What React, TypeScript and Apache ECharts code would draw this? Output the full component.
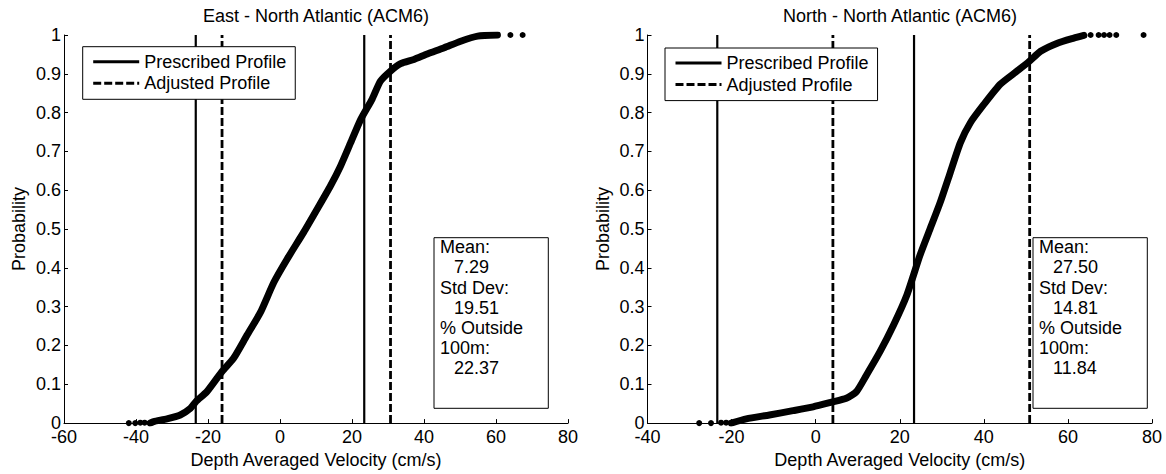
import React, { useEffect, useRef } from "react";
import * as echarts from "echarts";

// ---------- data ----------
const eastVel = [-36.1, -35.1, -31.4, -27.7, -24.9, -23.3, -20.3, -16.1, -12.9, -9.2, -5.4, -1.7, 2.0, 6.6, 10.3, 14.0, 16.8, 19.6, 22.4, 25.6, 27.9, 30.7, 33.5, 37.2, 40.9, 45.6, 50.2, 54.9, 60.4];
const eastProb = [0.0, 0.004, 0.011, 0.021, 0.038, 0.056, 0.081, 0.133, 0.167, 0.226, 0.286, 0.363, 0.423, 0.492, 0.551, 0.611, 0.662, 0.722, 0.782, 0.835, 0.881, 0.907, 0.926, 0.937, 0.951, 0.967, 0.984, 0.997, 1.0];
const eastTailVel = [-42.0, -40.2, -38.8, -37.6, 64.0, 67.4];
const eastTailProb = [0.0, 0.0, 0.001, 0.001, 1.0, 1.0];

const northVel = [-20.1, -16.5, -11.0, -5.4, -0.6, 3.8, 7.3, 9.7, 12.1, 15.3, 18.5, 21.7, 24.8, 27.2, 29.6, 32.0, 34.4, 36.8, 40.0, 43.9, 47.9, 50.8, 53.5, 57.5, 61.4, 63.8];
const northProb = [0.0, 0.011, 0.021, 0.032, 0.042, 0.054, 0.064, 0.081, 0.124, 0.184, 0.252, 0.33, 0.432, 0.5, 0.568, 0.645, 0.722, 0.774, 0.821, 0.873, 0.907, 0.932, 0.958, 0.979, 0.992, 0.999];
const northTailVel = [-27.7, -24.9, -22.5, -21.3, 65.4, 67.3, 68.6, 69.9, 71.5, 78.0];
const northTailProb = [0.0, 0.0, 0.001, 0.001, 1.0, 1.0, 1.0, 1.0, 1.0, 1.0];

const prescribedLines = [-23.4, 23.4];
const eastAdjustedLines = [-16.1, 30.7];
const northAdjustedLines = [4.1, 50.9];

const titles = ["East - North Atlantic (ACM6)", "North - North Atlantic (ACM6)"];
const legendNames = ["Prescribed Profile", "Adjusted Profile"];
const xAxisTitle = "Depth Averaged Velocity (cm/s)";
const yAxisTitle = "Probability";
const eastStats = ["Mean:", "7.29", "Std Dev:", "19.51", "% Outside", "100m:", "22.37"];
const northStats = ["Mean:", "27.50", "Std Dev:", "14.81", "% Outside", "100m:", "11.84"];
const statIsValue = [false, true, false, true, false, false, true];

const FONT = "'Liberation Sans', Arial, Helvetica, sans-serif";
const FS = 18;

const zip = (a: number[], b: number[]) => a.map((v, i) => [v, b[i]]);

function statsBox(x: number, y: number, w: number, h: number, lines: string[]) {
  const children: any[] = [
    { type: "rect", shape: { x, y, width: w, height: h }, style: { fill: "#fff", stroke: "#000", lineWidth: 1 } },
  ];
  lines.forEach((t, i) => {
    children.push({
      type: "text",
      x: x + (statIsValue[i] ? 20 : 6),
      y: y + 9.5 + i * 20.2,
      style: { text: t, fontSize: FS, fontFamily: FONT, fill: "#000", align: "left", verticalAlign: "middle" },
    });
  });
  return { type: "group", z: 10, children };
}

export default function App() {
  const ref = useRef<HTMLDivElement>(null);
  useEffect(() => {
    document.body.style.margin = "0";
    const chart = echarts.init(ref.current!, null, { renderer: "svg" });

    const axisCommon = {
      type: "value",
      axisLine: { onZero: false, lineStyle: { color: "#000", width: 1 } },
      axisTick: { inside: true, length: 4, lineStyle: { color: "#000", width: 1 } },
      splitLine: { show: false },
      nameLocation: "middle",
      nameTextStyle: { color: "#000", fontSize: FS, fontFamily: FONT },
    };
    const xAx = (gi: number, min: number) => ({
      ...axisCommon,
      gridIndex: gi,
      min,
      max: 80,
      interval: 20,
      name: xAxisTitle,
      nameGap: 26,
      axisLabel: { color: "#000", fontSize: FS, fontFamily: FONT, margin: 5 },
    });
    const yAx = (gi: number) => ({
      ...axisCommon,
      gridIndex: gi,
      min: 0,
      max: 1,
      interval: 0.1,
      name: yAxisTitle,
      nameGap: 36,
      axisLabel: {
        color: "#000",
        fontSize: FS,
        fontFamily: FONT,
        margin: 3,
        formatter: (v: number) => String(Math.round(v * 10) / 10),
      },
    });

    const vline = (gi: number, x: number, name: string, dashed: boolean) => ({
      type: "line",
      name,
      xAxisIndex: gi,
      yAxisIndex: gi,
      data: [[x, 0], [x, 1]],
      symbol: "none",
      silent: true,
      z: 2,
      itemStyle: { color: "rgba(0,0,0,0)" },
      lineStyle: dashed
        ? { color: "#000", width: 2.8, type: [8, 3] }
        : { color: "#000", width: 2.2, type: "solid" },
    });

    const series: any[] = [];
    [0, 1].forEach((gi) => {
      prescribedLines.forEach((x) => series.push(vline(gi, x, legendNames[0], false)));
      (gi === 0 ? eastAdjustedLines : northAdjustedLines).forEach((x) =>
        series.push(vline(gi, x, legendNames[1], true))
      );
      series.push({
        type: "line",
        name: "cdf" + gi,
        xAxisIndex: gi,
        yAxisIndex: gi,
        data: gi === 0 ? zip(eastVel, eastProb) : zip(northVel, northProb),
        symbol: "none",
        smooth: 0.2,
        z: 3,
        lineStyle: { color: "#000", width: 7, cap: "round", join: "round" },
      });
      series.push({
        type: "scatter",
        name: "tail" + gi,
        xAxisIndex: gi,
        yAxisIndex: gi,
        data: gi === 0 ? zip(eastTailVel, eastTailProb) : zip(northTailVel, northTailProb),
        symbol: "circle",
        symbolSize: 6,
        itemStyle: { color: "#000", opacity: 1 },
        z: 3,
      });
    });

    const legendCommon = {
      data: legendNames,
      orient: "vertical",
      itemWidth: 46,
      itemHeight: 14,
      itemGap: 3.6,
      padding: [6, 9, 7, 9],
      backgroundColor: "#fff",
      borderColor: "#000",
      borderWidth: 1,
      borderRadius: 0,
      selectedMode: false,
      textStyle: { color: "#000", fontSize: FS, fontFamily: FONT },
      lineStyle: { width: 3 },
      itemStyle: { color: "rgba(0,0,0,0)", opacity: 0, borderWidth: 0 },
      z: 8,
    };

    chart.setOption({
      animation: false,
      backgroundColor: "#fff",
      grid: [
        { left: 64, right: 1166 - 568, top: 35, bottom: 49 },
        { left: 647.5, right: 1166 - 1152, top: 35, bottom: 49 },
      ],
      xAxis: [xAx(0, -60), xAx(1, -40)],
      yAxis: [yAx(0), yAx(1)],
      legend: [
        { ...legendCommon, left: 82.7, top: 46.7 },
        { ...legendCommon, left: 665, top: 48 },
      ],
      series,
      graphic: [
        {
          type: "text",
          x: 316,
          y: 16,
          style: { text: titles[0], fontSize: FS, fontFamily: FONT, fill: "#000", align: "center", verticalAlign: "middle" },
        },
        {
          type: "text",
          x: 900,
          y: 16,
          style: { text: titles[1], fontSize: FS, fontFamily: FONT, fill: "#000", align: "center", verticalAlign: "middle" },
        },
        statsBox(434, 237.7, 114.3, 170.6, eastStats),
        statsBox(1033, 237.7, 114.3, 170.6, northStats),
      ],
    });
    return () => chart.dispose();
  }, []);
  return <div ref={ref} style={{ position: "absolute", left: 0, top: 0, width: 1166, height: 474 }} />;
}
